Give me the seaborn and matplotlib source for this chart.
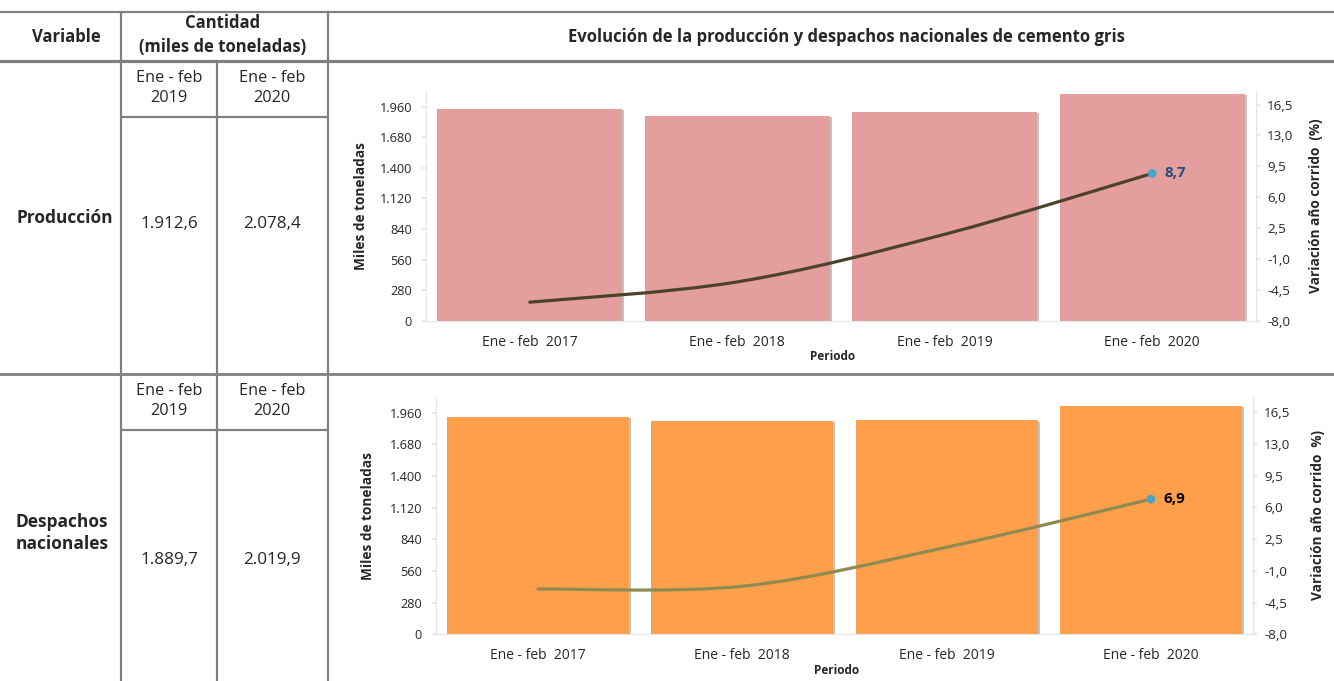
import matplotlib
matplotlib.use("Agg")
import matplotlib.pyplot as plt
import matplotlib.patheffects as pe
from matplotlib.path import Path
from matplotlib.patches import PathPatch
from matplotlib.ticker import FuncFormatter
import seaborn as sns
import pandas as pd

# Datos (miles de toneladas y variacion año corrido %)
periodos = ["Ene - feb  2017", "Ene - feb  2018", "Ene - feb  2019", "Ene - feb  2020"]
produccion = [1940.0, 1878.0, 1912.6, 2078.4]
var_produccion = [-5.9, -3.6, 1.8, 8.7]
despachos = [1925.0, 1885.0, 1889.7, 2019.9]
var_despachos = [-3.0, -2.7, 1.6, 6.9]

tabla_filas = ["Producción", "Despachos\nnacionales"]
tabla_periodos = ["Ene - feb\n2019", "Ene - feb\n2020"]
tabla_valores = [["1.912,6", "2.078,4"], ["1.889,7", "2.019,9"]]
etiquetas_finales = ["8,7", "6,9"]

sns.set_theme(style="white")
plt.rcParams["font.family"] = ["Open Sans", "DejaVu Sans"]

W, H = 1334, 681
fig = plt.figure(figsize=(W / 100, H / 100), dpi=100)

# --- tabla de la izquierda y encabezados (capa de fondo) ---
bg = fig.add_axes([0, 0, 1, 1])
bg.set_xlim(0, W)
bg.set_ylim(H, 0)
bg.axis("off")
gris = "#808080"
bg.plot([0, W], [12, 12], color=gris, lw=1.6)
bg.plot([0, W], [61, 61], color=gris, lw=2.3)
bg.plot([0, W], [374, 374], color=gris, lw=2.0)
bg.plot([121, 121], [12, H], color=gris, lw=1.6)
bg.plot([217, 217], [61, H], color=gris, lw=1.6)
bg.plot([328, 328], [12, H], color=gris, lw=1.6)
bg.plot([121, 328], [117, 117], color=gris, lw=1.6)
bg.plot([121, 328], [430, 430], color=gris, lw=1.6)

bg.text(66, 37, "Variable", ha="center", va="center", fontsize=12, fontweight="bold")
bg.text(223, 35, "Cantidad\n(miles de toneladas)", ha="center", va="center",
        fontsize=12, fontweight="bold", linespacing=1.45)
bg.text(846, 37, "Evolución de la producción y despachos nacionales de cemento gris",
        ha="center", va="center", fontsize=12, fontweight="bold")

row_tops = [61, 374]
for i, y0 in enumerate(row_tops):
    for j, xc in enumerate([169, 272]):
        bg.text(xc, y0 + 27, tabla_periodos[j], ha="center", va="center",
                fontsize=11.7, linespacing=1.4)
    val_y = 224 if i == 0 else 560
    for j, xc in enumerate([169, 272]):
        bg.text(xc, val_y, tabla_valores[i][j], ha="center", va="center", fontsize=12.3)
    lab_y = 218 if i == 0 else 533
    lab_x = 65 if i == 0 else 62
    bg.text(lab_x, lab_y, tabla_filas[i], ha="center", va="center", fontsize=12.5,
            fontweight="bold", linespacing=1.3)

# --- graficos ---
miles = FuncFormatter(lambda v, p: f"{v:,.0f}".replace(",", "."))
pct = FuncFormatter(lambda v, p: f"{v:.1f}".replace(".", ","))


def smooth_path(xs, ys):
    # curva suavizada estilo Excel (Catmull-Rom a Bezier)
    pts = list(zip(xs, ys))
    verts = [pts[0]]
    codes = [Path.MOVETO]
    n = len(pts)
    for k in range(n - 1):
        p0 = pts[k - 1] if k > 0 else pts[k]
        p1 = pts[k]
        p2 = pts[k + 1]
        p3 = pts[k + 2] if k + 2 < n else pts[k + 1]
        c1 = (p1[0] + (p2[0] - p0[0]) / 6, p1[1] + (p2[1] - p0[1]) / 6)
        c2 = (p2[0] - (p3[0] - p1[0]) / 6, p2[1] - (p3[1] - p1[1]) / 6)
        verts += [c1, c2, p2]
        codes += [Path.CURVE4] * 3
    return Path(verts, codes)


configs = [
    dict(rect=[426 / W, 1 - 320.7 / H, 830 / W, 229.3 / H], bars=produccion,
         var=var_produccion, bar_color="#E49E9E", line_color="#4A4328",
         lab_color="#1F4E79", ylim=(0, 2100), y2lim=(-8, 18.0),
         ylab_x=-0.070, y2lab_x=1.064, per_y=-0.157,
         y2label="Variación año corrido  (%)", label=etiquetas_finales[0]),
    dict(rect=[436 / W, 1 - 634.3 / H, 817 / W, 237.6 / H], bars=despachos,
         var=var_despachos, bar_color="#FD9F4B", line_color="#8E8A52",
         lab_color="black", ylim=(0, 2100), y2lim=(-8, 18.2),
         ylab_x=-0.075, y2lab_x=1.071, per_y=-0.152,
         y2label="Variación año corrido  %)", label=etiquetas_finales[1]),
]

eje = "#E6E6E6"
for cfg in configs:
    ax = fig.add_axes(cfg["rect"])
    df = pd.DataFrame({"periodo": periodos, "valor": cfg["bars"]})
    sns.barplot(data=df, x="periodo", y="valor", ax=ax, color=cfg["bar_color"],
                saturation=1, width=0.89, linewidth=0, edgecolor=cfg["bar_color"])
    for bar in ax.patches:
        bar.set_path_effects([pe.SimplePatchShadow(offset=(1.5, -1), alpha=0.35,
                                                   shadow_rgbFace="#555555"),
                              pe.Normal()])
    ax.set_ylim(*cfg["ylim"])
    ax.set_xlim(-0.5, 3.5)
    ax.set_yticks(range(0, 1961, 280))
    ax.yaxis.set_major_formatter(miles)
    ax.set_ylabel("Miles de toneladas", fontsize=9.8, fontweight="bold")
    ax.yaxis.set_label_coords(cfg["ylab_x"], 0.5)
    ax.set_xlabel("")
    ax.text(0.49, cfg["per_y"], "Periodo", transform=ax.transAxes, ha="center",
            va="center", fontsize=8.5, fontweight="bold")
    ax.spines["top"].set_visible(False)
    for s in ["left", "right", "bottom"]:
        ax.spines[s].set_color(eje)
        ax.spines[s].set_linewidth(0.8)
    ax.tick_params(axis="y", length=3, color=eje, pad=7, labelsize=9.2, left=True)
    ax.tick_params(axis="x", length=0, pad=10, labelsize=10)

    ax2 = ax.twinx()
    ax2.set_ylim(*cfg["y2lim"])
    ax2.set_yticks([-8.0, -4.5, -1.0, 2.5, 6.0, 9.5, 13.0, 16.5])
    ax2.yaxis.set_major_formatter(pct)
    for s in ["top", "left", "bottom"]:
        ax2.spines[s].set_visible(False)
    ax2.spines["right"].set_color(eje)
    ax2.spines["right"].set_linewidth(0.8)
    ax2.tick_params(axis="y", length=3, color=eje, pad=5, labelsize=9.6, right=True)
    ax2.set_ylabel(cfg["y2label"], fontsize=9.8, fontweight="bold")
    ax2.yaxis.set_label_coords(cfg["y2lab_x"], 0.5)
    ax2.grid(False)

    xs = list(range(len(periodos)))
    ax2.add_patch(PathPatch(smooth_path(xs, cfg["var"]), facecolor="none",
                            edgecolor=cfg["line_color"], lw=2.3, capstyle="round"))
    sns.scatterplot(x=[xs[-1]], y=[cfg["var"][-1]], ax=ax2, color="#4BA3C3",
                    s=40, edgecolor="none", zorder=5)
    ax2.annotate(cfg["label"], (xs[-1], cfg["var"][-1]), xytext=(9, 0),
                 textcoords="offset points", ha="left", va="center",
                 fontsize=11, fontweight="bold", color=cfg["lab_color"])

fig.savefig("out.png", dpi=100)
